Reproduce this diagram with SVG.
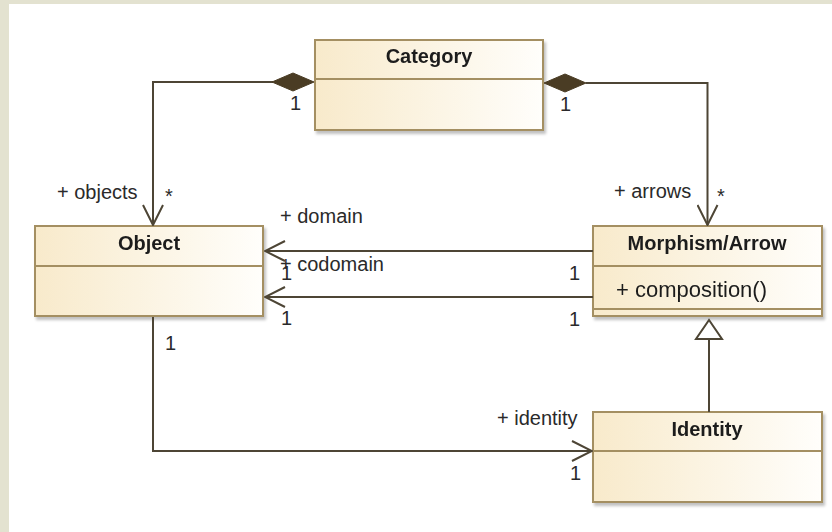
<svg xmlns="http://www.w3.org/2000/svg" width="832" height="532" viewBox="0 0 832 532">
  <defs>
    <linearGradient id="boxFill" x1="0" y1="0" x2="1" y2="0">
      <stop offset="0" stop-color="#f8eacb"/>
      <stop offset="1" stop-color="#fffefb"/>
    </linearGradient>
    <filter id="shadow" x="-5%" y="-5%" width="115%" height="120%">
      <feGaussianBlur in="SourceAlpha" stdDeviation="1.5"/>
      <feOffset dx="2" dy="3" result="b"/>
      <feComponentTransfer><feFuncA type="linear" slope="0.25"/></feComponentTransfer>
      <feMerge><feMergeNode/><feMergeNode in="SourceGraphic"/></feMerge>
    </filter>
    <marker id="open" viewBox="0 0 22 22" refX="21" refY="11" markerWidth="22" markerHeight="22" markerUnits="userSpaceOnUse" orient="auto">
      <path d="M1,1 L21,11 L1,21" fill="none" stroke="#4d4535" stroke-width="2"/>
    </marker>
  </defs>
  <style>
    .box { fill: url(#boxFill); stroke: #a48f62; stroke-width: 2; }
    .div { stroke: #a48f62; stroke-width: 2; }
    .title { font-family: "Liberation Sans", Arial, sans-serif; font-weight: bold; font-size: 20px; fill: #1e1e1e; text-anchor: middle; }
    .op { font-family: "Liberation Sans", Arial, sans-serif; font-size: 22px; fill: #1e1e1e; }
    .lbl { font-family: "Liberation Sans", Arial, sans-serif; font-size: 20px; fill: #2a2a2a; }
    .conn { fill: none; stroke: #4d4535; stroke-width: 2; }
    .diamond { fill: #4a3c24; stroke: #4a3c24; stroke-width: 1; }
    .gen { fill: #ffffff; stroke: #4d4535; stroke-width: 2; }
  </style>

  <!-- canvas with textured margin -->
  <rect x="0" y="0" width="832" height="532" fill="#e3e2d0"/>
  <rect x="9" y="4" width="823" height="528" fill="#ffffff"/>

  <!-- classes -->
  <g id="category" filter="url(#shadow)">
    <rect class="box" x="315" y="40" width="228" height="90"/>
    <line class="div" x1="315" y1="79" x2="543" y2="79"/>
    <text class="title" x="429" y="63">Category</text>
  </g>

  <g id="object" filter="url(#shadow)">
    <rect class="box" x="35" y="226" width="228" height="90"/>
    <line class="div" x1="35" y1="266" x2="263" y2="266"/>
    <text class="title" x="149" y="250">Object</text>
  </g>

  <g id="morphism" filter="url(#shadow)">
    <rect class="box" x="593" y="226" width="229" height="90"/>
    <line class="div" x1="593" y1="266" x2="822" y2="266"/>
    <line class="div" x1="593" y1="309" x2="822" y2="309"/>
    <text class="title" x="707" y="250">Morphism/Arrow</text>
    <text class="op" x="616" y="297">+ composition()</text>
  </g>

  <g id="identity" filter="url(#shadow)">
    <rect class="box" x="593" y="412" width="229" height="90"/>
    <line class="div" x1="593" y1="451" x2="822" y2="451"/>
    <text class="title" x="707" y="436">Identity</text>
  </g>

  <!-- associations and generalization -->
  <g id="connectors">
    <!-- Category composes Objects -->
    <polyline class="conn" points="273,82 153,82 153,225" marker-end="url(#open)"/>
    <polygon class="diamond" points="314,82 293,73 272,82 293,91"/>
    <!-- Category composes Arrows -->
    <polyline class="conn" points="586,83 707.5,83 707.5,225" marker-end="url(#open)"/>
    <polygon class="diamond" points="544,83 565,74 586,83 565,92"/>
    <!-- domain / codomain -->
    <line class="conn" x1="593" y1="251" x2="265" y2="251" marker-end="url(#open)"/>
    <line class="conn" x1="593" y1="297" x2="265" y2="297" marker-end="url(#open)"/>
    <!-- identity -->
    <polyline class="conn" points="153,317 153,451 592,451" marker-end="url(#open)"/>
    <!-- Identity generalizes Morphism -->
    <line class="conn" x1="709" y1="412" x2="709" y2="339"/>
    <polygon class="gen" points="709,320 696,339 722,339"/>
  </g>

  <!-- role names and multiplicities -->
  <g id="labels" class="lbl">
    <text x="290" y="110">1</text>
    <text x="560" y="111">1</text>
    <text x="57" y="199">+ objects</text>
    <text x="165" y="203">*</text>
    <text x="614" y="198">+ arrows</text>
    <text x="717" y="203">*</text>
    <text x="280" y="223">+ domain</text>
    <text x="280" y="271">+ codomain</text>
    <text x="281" y="280">1</text>
    <text x="281" y="325">1</text>
    <text x="569" y="280">1</text>
    <text x="569" y="326">1</text>
    <text x="165" y="350">1</text>
    <text x="497" y="425">+ identity</text>
    <text x="570" y="480">1</text>
  </g>
</svg>
